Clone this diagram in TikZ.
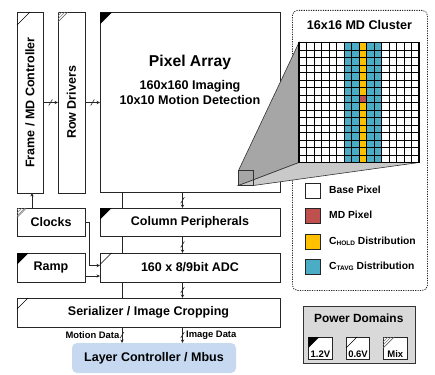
\documentclass[tikz,border=0pt]{standalone}
\usepackage{fontspec}
\setmainfont{Liberation Sans}
\usetikzlibrary{arrows.meta,decorations.markings,patterns,calc}
\definecolor{mdred}{HTML}{C0504D}
\definecolor{holdy}{HTML}{FFC000}
\definecolor{tavg}{HTML}{4BACC6}
\definecolor{lcblue}{HTML}{C6D9F1}
\definecolor{lensdark}{HTML}{A6A6A6}
\definecolor{lenslight}{HTML}{C9C9C9}
\definecolor{pdgray}{HTML}{D9D9D9}
\newcommand\fsz[1]{\fontsize{#1}{#1}\selectfont}
\newcommand\pdhi[2]{\fill[black] (#1.north west) -- ++(#2,0) -- ++(-#2,#2) -- cycle;}
\newcommand\pdlo[2]{\draw[line width=0.6pt] ($(#1.north west)+(0,#2)$) -- ($(#1.north west)+(#2,0)$);}
\newcommand\pdmix[2]{\fill[pattern=north east lines, pattern color=black!50] (#1.north west) -- ++(#2,0) -- ++(-#2,#2) -- cycle;
  \draw[line width=0.5pt, black!60] ($(#1.north west)+(0,#2)$) -- ($(#1.north west)+(#2,0)$);}
\begin{document}
\begin{tikzpicture}[x=1pt,y=-1pt,
  box/.style={draw=black!85, line width=0.9pt, fill=white, inner sep=0pt, outer sep=0pt,
    anchor=north west, font=\fsz{12.5}\bfseries, align=center},
  plain/.style={line width=0.7pt, draw=black!85},
  arr/.style={line width=0.7pt, draw=black!85, -{Stealth[length=3.5pt,width=3.4pt]}},
  bus/.style={arr, postaction={decorate},
    decoration={markings, mark=at position 0.5 with {\pgftransformresetnontranslations
      \draw[-, line width=0.6pt] (-1.8pt,-3pt) -- (1.8pt,3pt);}}},
  leg/.style={draw=black!85, line width=0.8pt, minimum size=15pt, inner sep=0pt, anchor=north west},
  legtxt/.style={anchor=west, font=\fsz{10.3}\bfseries, inner sep=0pt},
  pdbox/.style={draw=black!85, line width=0.8pt, fill=white, minimum width=23.3pt, minimum height=22.3pt,
    inner sep=0pt, anchor=north west},
  pdtxt/.style={anchor=base, font=\fsz{9.5}\bfseries, inner sep=0pt}
]
\useasboundingbox (0,0) rectangle (435,374);

% main blocks
\node[box, minimum width=26pt, minimum height=181pt] (frame) at (17,12) {\rotatebox{90}{Frame / MD Controller}};
\node[box, minimum width=27pt, minimum height=181pt] (rowdrv) at (58,12) {\rotatebox{90}{Row Drivers}};
\node[box, minimum width=180pt, minimum height=180pt] (pix) at (100,12.5) {};
\node[anchor=base, font=\fsz{15.7}\bfseries, inner sep=0pt] (pixt1) at (190,66.7) {Pixel Array};
\node[anchor=base, font=\fsz{12.6}\bfseries, inner sep=0pt] (pixt2) at (190,89.3) {160x160 Imaging};
\node[anchor=base, font=\fsz{12.6}\bfseries, inner sep=0pt] (pixt3) at (190,105) {10x10 Motion Detection};
\node[box, minimum width=68pt, minimum height=28pt] (clocks) at (17,208) {Clocks};
\node[box, minimum width=180pt, minimum height=28pt] (colp) at (100,208) {Column Peripherals};
\node[box, minimum width=68pt, minimum height=29pt] (ramp) at (17,253) {Ramp};
\node[box, minimum width=180pt, minimum height=29pt] (adc) at (100,253) {160 x 8/9bit ADC};
\node[box, minimum width=263pt, minimum height=29pt] (ser) at (17,298) {Serializer / Image Cropping};
\node[box, draw=none, fill=lcblue, rounded corners=5pt, minimum width=164pt, minimum height=30pt] (layer) at (72,343) {Layer Controller / Mbus};

% power markers on blocks
\pdlo{frame}{13}
\pdmix{rowdrv}{10}
\pdhi{pix}{12}
\pdmix{clocks}{9.5}
\pdhi{colp}{11.5}
\pdhi{ramp}{11.5}
\pdlo{adc}{11.5}
\pdlo{ser}{11}

% connectors
\coordinate (colA) at (122,0);
\coordinate (colB) at (182.5,0);
\coordinate (clkx) at (32,0);
\coordinate (cbend) at (89.5,265.5);
\coordinate (rampy) at (0,276);
\draw[bus] (frame.east) -- (rowdrv.west);
\draw[bus] (rowdrv.east) -- (rowdrv.east -| pix.west);
\draw[arr] (clocks.north -| clkx) -- (frame.south -| clkx);
\draw[plain] (pix.south -| colA) -- (colp.north -| colA);
\draw[plain] (colp.south -| colA) -- (adc.north -| colA);
\draw[plain] (adc.south -| colA) -- (ser.north -| colA);
\draw[bus] (pix.south -| colB) -- (colp.north -| colB);
\draw[bus] (colp.south -| colB) -- (adc.north -| colB);
\draw[bus] (adc.south -| colB) -- (ser.north -| colB);
\draw[arr] (clocks.east) -| (cbend) -- (cbend -| adc.west);
\draw[arr] (ramp.east |- rampy) -- (adc.west |- rampy);
\draw[bus] (ser.south -| colA) -- (layer.north -| colA);
\draw[bus] (ser.south -| colB) -- (layer.north -| colB);
\node[anchor=east, font=\fsz{9.4}\bfseries, inner sep=0pt] (mdata) at (119.5,335.5) {Motion Data};
\node[anchor=west, font=\fsz{9.4}\bfseries, inner sep=0pt] (idata) at (186,335.5) {Image Data};

% cluster panel
\node[draw=black!85, dash pattern=on 1.2pt off 1.2pt, rounded corners=5pt, line width=0.8pt,
  minimum width=135pt, minimum height=280pt, inner sep=0pt, anchor=north west] (panel) at (292,10) {};
\node[font=\fsz{12.6}\bfseries, inner sep=0pt] (ptitle) at (359.5,25) {16x16 MD Cluster};
\node[inner sep=0pt, outer sep=0pt, minimum size=120pt, anchor=north west] (grid) at (299,42.5) {};
\node[inner sep=0pt, outer sep=0pt, minimum size=15pt, anchor=north west] (lens) at (238.5,170.5) {};

% zoom projection
\filldraw[fill=lensdark, draw=black!80, line width=0.6pt] (lens.north west) -- (grid.north west) -- (grid.south west) -- (lens.south west) -- cycle;
\filldraw[fill=lenslight, draw=black!80, line width=0.6pt] (lens.south west) -- (grid.south west) -- (grid.south east) -- (lens.south east) -- cycle;

% grid
\fill[white] (grid.north west) rectangle (grid.south east);
\fill[tavg] (344,42.5) rectangle (359,162.5);
\fill[tavg] (366.5,42.5) rectangle (381.5,162.5);
\fill[holdy] (359,42.5) rectangle (366.5,162.5);
\fill[mdred] (359,95) rectangle (366.5,102.5);
\foreach \i in {1,...,15} {
  \draw[line width=0.6pt] ({299+7.5*\i},42.5) -- ({299+7.5*\i},162.5);
  \draw[line width=0.6pt] (299,{42.5+7.5*\i}) -- (419,{42.5+7.5*\i});
}
\draw[line width=1.4pt] (grid.north west) rectangle (grid.south east);
\draw[draw=black!80, line width=1.3pt] (lens.north west) rectangle (lens.south east);

% legend
\node[leg, fill=white] (lbase) at (305,182.5) {};
\node[leg, fill=mdred] (lmd) at (305,207.5) {};
\node[leg, fill=holdy] (lhold) at (305,233.5) {};
\node[leg, fill=tavg] (ltavg) at (305,259) {};
\node[legtxt] (tbase) at (329,189.5) {Base Pixel};
\node[legtxt] (tmd) at (329,215) {MD Pixel};
\node[legtxt] (thold) at (329,241) {C\raisebox{-1.3pt}{\fsz{6.5}HOLD} Distribution};
\node[legtxt] (ttavg) at (329,266.5) {C\raisebox{-1.3pt}{\fsz{6.5}TAVG} Distribution};

% power domains
\node[draw=black!80, fill=pdgray, line width=1pt, minimum width=112.5pt, minimum height=57pt,
  inner sep=0pt, anchor=north west] (pd) at (302.5,306) {};
\node[font=\fsz{11.9}\bfseries, inner sep=0pt] (pdtitle) at (358.75,318) {Power Domains};
\node[pdbox] (pdh) at (308.3,337) {};
\node[pdbox] (pdl) at (346,337) {};
\node[pdbox] (pdm) at (383.3,337) {};
\pdhi{pdh}{11}
\pdlo{pdl}{11}
\pdmix{pdm}{11}
\node[pdtxt] (pdht) at ($(pdh.south)+(0,-3)$) {1.2V};
\node[pdtxt] (pdlt) at ($(pdl.south)+(0,-3)$) {0.6V};
\node[pdtxt] (pdmt) at ($(pdm.south)+(0,-3)$) {Mix};
\end{tikzpicture}
\end{document}
